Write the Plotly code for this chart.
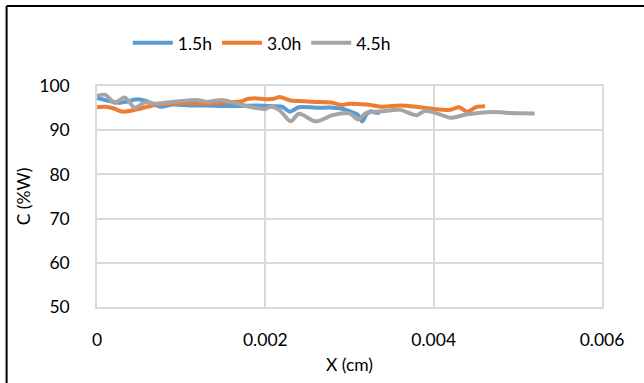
import plotly.graph_objects as go

# Concentration profiles C (%W) along X (cm) for three exposure times
x_15 = [0, 0.0001, 0.00027, 0.00036, 0.00048, 0.00058, 0.00075, 0.0009, 0.0011, 0.0013,
        0.0015, 0.0017, 0.0019, 0.0021, 0.0022, 0.00229, 0.0024, 0.0026, 0.0028, 0.0029,
        0.003, 0.0031, 0.00315, 0.0032, 0.00325, 0.0033, 0.00336]
c_15 = [97.3, 96.8, 96.2, 96.5, 97.0, 96.6, 95.3, 95.8, 95.6, 95.6,
        95.5, 95.5, 95.6, 95.4, 95.3, 94.2, 95.2, 95.1, 95.1, 94.9,
        94.3, 93.5, 92.0, 93.5, 94.3, 94.0, 93.9]

x_30 = [0, 0.0001, 0.0002, 0.00031, 0.00045, 0.0006, 0.00075, 0.0009, 0.0011, 0.0013,
        0.0015, 0.0017, 0.0018, 0.0019, 0.002, 0.0021, 0.00217, 0.0023, 0.0024, 0.0026,
        0.0028, 0.0029, 0.003, 0.0032, 0.0034, 0.0036, 0.0038, 0.004, 0.0042, 0.0043,
        0.0044, 0.0045, 0.00461]
c_30 = [95.2, 95.3, 94.9, 94.2, 94.6, 95.3, 95.9, 96.0, 96.2, 96.0,
        96.3, 96.5, 97.1, 97.2, 97.0, 97.1, 97.5, 96.7, 96.6, 96.4,
        96.2, 95.7, 96.0, 95.8, 95.3, 95.6, 95.3, 94.8, 94.6, 95.2,
        94.2, 95.2, 95.4]

x_45 = [0, 0.0001, 0.00021, 0.00033, 0.00045, 0.00057, 0.00069, 0.00081, 0.001, 0.0012,
        0.0013, 0.0015, 0.0017, 0.0019, 0.002, 0.00206, 0.00217, 0.0023, 0.0024, 0.0026,
        0.0028, 0.003, 0.0031, 0.0032, 0.0034, 0.0036, 0.0038, 0.0039, 0.0041, 0.0042,
        0.0044, 0.0047, 0.0049, 0.0052]
c_45 = [97.8, 98.0, 96.2, 97.4, 95.1, 96.3, 96.0, 96.2, 96.6, 96.8,
        96.4, 96.8, 95.8, 95.0, 94.8, 95.3, 94.5, 92.0, 93.7, 92.0,
        93.4, 93.8, 92.4, 93.9, 94.3, 94.6, 93.4, 94.4, 93.4, 92.8,
        93.6, 94.1, 93.9, 93.8]

series_names = ["1.5h", "3.0h", "4.5h"]
series_colors = ["#5B9BD5", "#ED7D31", "#A5A5A5"]

x_ticks = [0, 0.002, 0.004, 0.006]
x_tick_text = ["0", "0.002", "0.004", "0.006"]
y_ticks = [50, 60, 70, 80, 90, 100]

FONT = "Lato, 'Open Sans', sans-serif"
FS = 17.5
GRID = "#D9D9D9"

fig = go.Figure()
for name, xs, ys, col in zip(series_names, [x_15, x_30, x_45], [c_15, c_30, c_45], series_colors):
    fig.add_trace(go.Scatter(
        x=xs, y=ys, name=name, mode="lines",
        line=dict(color=col, width=4, shape="spline", smoothing=0.8),
    ))

fig.update_layout(
    width=644, height=383,
    margin=dict(l=97, r=42, t=86, b=76),
    paper_bgcolor="white", plot_bgcolor="white",
    font=dict(family=FONT, size=FS, color="#000000"),
    showlegend=True,
    legend=dict(
        orientation="h", x=0.061, xanchor="left", y=1.195, yanchor="middle",
        font=dict(family=FONT, size=FS, color="#000000"),
        bgcolor="rgba(0,0,0,0)", itemwidth=40, tracegroupgap=0,
    ),
    xaxis=dict(
        range=[0, 0.006], tickvals=x_ticks, ticktext=x_tick_text,
        showgrid=True, gridcolor=GRID, gridwidth=1.5, zeroline=False,
        showline=True, linecolor=GRID, linewidth=1.5, mirror=True,
        ticks="", ticklabelstandoff=16,
        title=dict(text="X (cm)", font=dict(family=FONT, size=FS), standoff=10),
    ),
    yaxis=dict(
        range=[50, 100], tickvals=y_ticks,
        showgrid=True, gridcolor=GRID, gridwidth=1.5, zeroline=False,
        showline=True, linecolor=GRID, linewidth=1.5, mirror=True,
        ticks="", ticklabelstandoff=22,
        title=dict(text="C (%W)", font=dict(family=FONT, size=FS), standoff=4),
    ),
)

# Outer chart-area frame: only its left and top edges fall inside the page
frame = dict(color="#000000", width=2)
fig.add_shape(type="line", xref="paper", yref="paper",
              x0=-0.179, x1=-0.179, y0=-0.4, y1=1.362, line=frame, layer="above")
fig.add_shape(type="line", xref="paper", yref="paper",
              x0=-0.179, x1=1.2, y0=1.362, y1=1.362, line=frame, layer="above")

fig.write_html("out.html")
